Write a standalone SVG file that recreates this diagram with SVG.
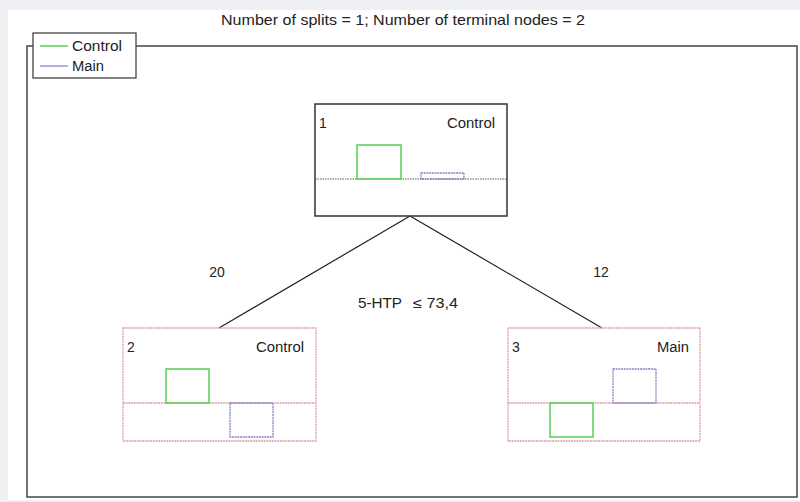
<svg xmlns="http://www.w3.org/2000/svg" width="800" height="502" viewBox="0 0 800 502">
  <style>
    .txt { font-family: "Liberation Sans Narrow", "Liberation Sans", Arial, sans-serif; font-size: 14px; fill: #222; }
    .title { font-family: "Liberation Sans Narrow", "Liberation Sans", Arial, sans-serif; font-size: 15px; fill: #222; }
    .root { fill: none; stroke: #333; stroke-width: 1.5; }
    .leaf { fill: none; stroke: #e0a0a8; stroke-width: 1.3; stroke-dasharray: 2 0.7; }
    .div1 { stroke: #555; stroke-width: 1; stroke-dasharray: 1.5 1; }
    .divL { stroke: #e0a0a8; stroke-width: 1.3; stroke-dasharray: 2 0.7; }
    .g { fill: none; stroke: #55d055; stroke-width: 1.5; }
    .b { fill: none; stroke: #8585cc; stroke-width: 1.3; stroke-dasharray: 2 0.7; }
    .edge { stroke: #222; stroke-width: 1.2; fill: none; }
  </style>

  <!-- page background and white plot panel -->
  <rect x="0" y="0" width="800" height="502" fill="#eef0f3"/>
  <rect x="8" y="10" width="792" height="490" fill="#ffffff"/>

  <text class="title" x="403" y="25" text-anchor="middle" textLength="364" lengthAdjust="spacingAndGlyphs">Number of splits = 1; Number of terminal nodes = 2</text>

  <!-- plot frame -->
  <rect x="27" y="46" width="770" height="451" fill="none" stroke="#444" stroke-width="1.5"/>

  <!-- legend -->
  <g id="legend">
    <rect x="33" y="33" width="103" height="45" fill="#fff" stroke="#444" stroke-width="1.3"/>
    <line x1="40" y1="46" x2="68" y2="46" stroke="#55d055" stroke-width="1.5"/>
    <text class="txt" x="72" y="51" textLength="50" lengthAdjust="spacingAndGlyphs">Control</text>
    <line x1="40" y1="66" x2="68" y2="66" stroke="#8585cc" stroke-width="1.3"/>
    <text class="txt" x="72" y="71" textLength="32" lengthAdjust="spacingAndGlyphs">Main</text>
  </g>

  <!-- connectors -->
  <g id="edges">
    <line class="edge" x1="410" y1="216" x2="219" y2="328"/>
    <line class="edge" x1="410" y1="216" x2="602" y2="328"/>
    <text class="txt" x="217" y="277" text-anchor="middle">20</text>
    <text class="txt" x="601" y="277" text-anchor="middle">12</text>
    <text class="txt" y="308"><tspan x="358" textLength="44" lengthAdjust="spacingAndGlyphs">5-HTP</tspan><tspan x="413" textLength="45" lengthAdjust="spacingAndGlyphs">≤ 73,4</tspan></text>
  </g>

  <!-- root node -->
  <g id="node1">
    <rect class="root" x="315" y="104" width="192" height="112"/>
    <line class="div1" x1="315" y1="179" x2="507" y2="179"/>
    <rect class="g" x="357" y="145" width="44" height="34"/>
    <rect class="b" x="421" y="173" width="43" height="6"/>
    <text class="txt" x="319" y="128">1</text>
    <text class="txt" x="495" y="128" text-anchor="end" textLength="48" lengthAdjust="spacingAndGlyphs">Control</text>
  </g>

  <!-- left terminal node -->
  <g id="node2">
    <rect class="leaf" x="123" y="328" width="193" height="113"/>
    <line class="divL" x1="123" y1="403" x2="316" y2="403"/>
    <rect class="g" x="166" y="369" width="43" height="34"/>
    <rect class="b" x="230" y="403" width="43" height="34"/>
    <text class="txt" x="127" y="352">2</text>
    <text class="txt" x="304" y="352" text-anchor="end" textLength="48" lengthAdjust="spacingAndGlyphs">Control</text>
  </g>

  <!-- right terminal node -->
  <g id="node3">
    <rect class="leaf" x="508" y="328" width="192" height="113"/>
    <line class="divL" x1="508" y1="403" x2="700" y2="403"/>
    <rect class="b" x="613" y="369" width="43" height="34"/>
    <rect class="g" x="550" y="403" width="43" height="34"/>
    <text class="txt" x="512" y="352">3</text>
    <text class="txt" x="689" y="352" text-anchor="end" textLength="32" lengthAdjust="spacingAndGlyphs">Main</text>
  </g>
</svg>
